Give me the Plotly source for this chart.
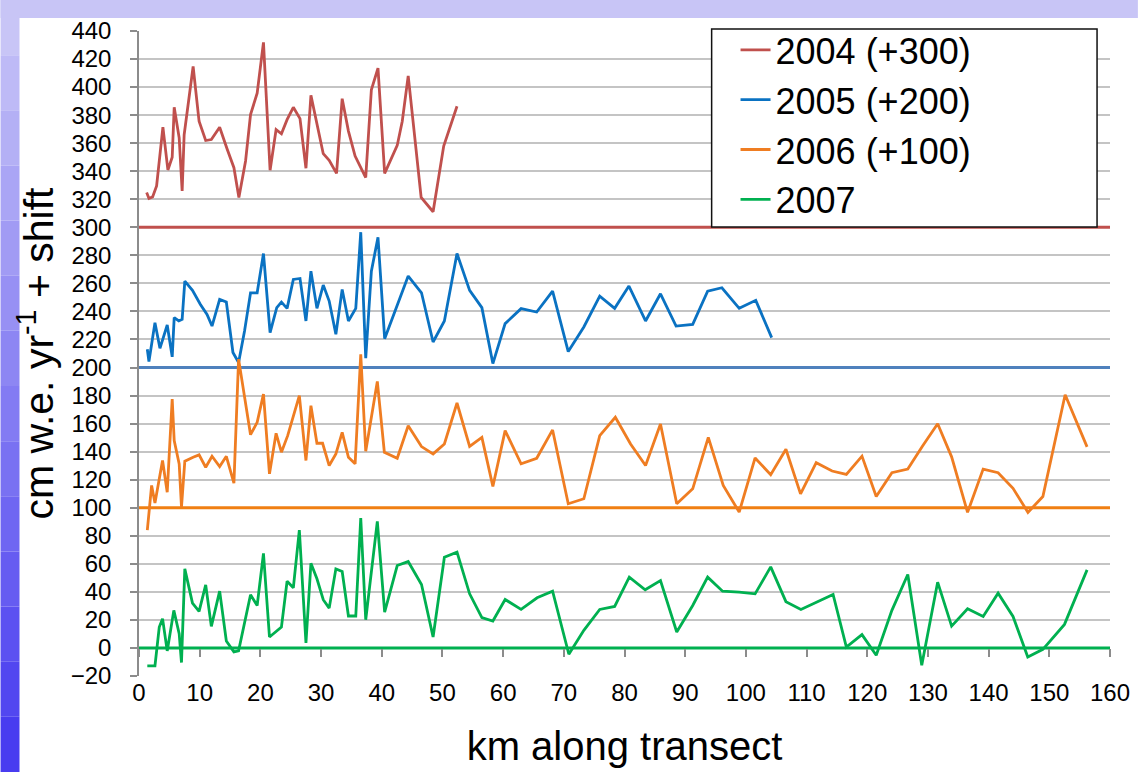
import plotly.graph_objects as go

# ---------------- data ----------------
KM_2004 = [1.26, 1.64, 2.24, 2.9, 3.94, 4.76, 5.47, 5.8, 6.62, 7.11, 7.44, 8.92, 9.9, 10.99, 11.92,
           13.29, 14.55, 15.64, 16.46, 17.56, 18.38, 19.47, 20.51, 21.6, 22.59, 23.47, 24.4, 25.43,
           26.53, 27.51, 28.33, 29.32, 30.36, 31.34, 32.55, 33.48, 34.51, 35.61, 37.36, 38.29, 39.38,
           40.48, 41.52, 42.55, 43.38, 44.36, 45.45, 46.49, 48.46, 50.21, 52.4]
VAL_2004 = [24.8, 20.6, 21.7, 29.5, 71.4, 40.9, 50, 85.6, 63.8, 26, 66, 114.7, 75.6, 61.9, 62.6,
            71.4, 55.5, 42.5, 21.3, 47.3, 80.4, 95.7, 131.9, 40.7, 69.7, 66.7, 76.8, 85.6,
            77.5, 42.1, 94.1, 73.3, 52.5, 47.8, 38.5, 91.7, 68.6, 50.8, 35.5, 98.1, 113.5,
            38.5, 48.5, 58.4, 75.6, 108, 63.8, 21.3, 11.1, 57.9, 86.3]

KM_2005 = [1.37, 1.64, 2.63, 3.45, 4.65, 5.47, 5.8, 6.56, 7.11, 7.55, 8.81, 10.12, 11.21, 12.03,
           13.29, 14.39, 15.48, 16.41, 17.39, 18.38, 19.47, 20.51, 21.6, 22.7, 23.47, 24.4, 25.43,
           26.53, 27.51, 28.33, 29.32, 30.36, 31.34, 32.44, 33.48, 34.51, 35.72, 36.54, 37.36,
           38.29, 39.38, 40.48, 44.36, 46.55, 48.46, 50.32, 52.4, 54.48, 56.5, 58.31, 60.33,
           62.96, 65.53, 68.15, 70.73, 73.3, 75.92, 78.38, 80.73, 83.47, 85.93, 88.5, 91.24,
           93.7, 96.05, 98.9, 101.63, 104.25]
VAL_2005 = [13, 4.3, 32, 13.7, 30.3, 7.6, 35.6, 33.2, 34.4, 61.6, 55, 45, 37.9, 29.6,
            48.6, 46.7, 10.7, 3.6, 26.1, 53.3, 53.3, 81.3, 24.9, 42.7, 46.7, 42.2, 62.8,
            63.5, 33.2, 68.7, 42.2, 58.8, 47.4, 23.7, 55.7, 33.2, 42.2, 96.5, 6.6,
            68.7, 92.9, 20.6, 65.2, 53.3, 18.2, 33.2, 81.3, 55, 42.7, 2.8, 31.3,
            42, 39.6, 54.5, 11.4, 28.9, 50.9, 42.2, 58.1, 33.2, 52.6, 29.6, 30.8,
            54.5, 56.9, 42.2, 47.9, 21.3]

KM_2006 = [1.37, 2.08, 2.63, 3.88, 4.65, 5.47, 5.8, 6.62, 7.0, 7.55, 8.92, 9.9, 10.99, 12.03,
           13.29, 14.39, 15.64, 16.41, 18.38, 19.47, 20.51, 21.5, 22.59, 23.47, 24.5, 26.42,
           27.51, 28.33, 29.32, 30.25, 31.34, 32.44, 33.48, 34.51, 35.61, 36.54, 37.36, 39.27,
           40.43, 42.55, 44.36, 46.55, 48.46, 50.32, 52.4, 54.48, 56.5, 58.31, 60.33, 62.96,
           65.53, 68.15, 70.73, 73.3, 75.92, 78.49, 81.0, 83.47, 85.93, 88.61, 91.24, 93.81,
           96.27, 98.9, 101.52, 104.09, 106.6, 109.01, 111.59, 114.21, 116.56, 119.13, 121.48,
           124.06, 126.68, 129.09, 131.6, 133.9, 136.53, 139.1, 141.56, 144.02, 146.48, 148.94,
           152.61, 156.22]
VAL_2006 = [-16, 15.9, 3.3, 33.7, 11.1, 77.5, 47.9, 31.3, 0.5, 33.2, 36, 37.7, 28.9, 36.7,
            29.4, 36.7, 17.5, 106, 52.1, 60.9, 81, 24.2, 53.1, 39.6, 51.4, 79.9,
            33.7, 72.8, 46, 46, 30.1, 38.4, 53.8, 36, 31.3, 109.5, 40.3, 90.1,
            39.6, 35.3, 58.5, 43.6, 38.4, 45.5, 74.7, 43.8, 50.2, 15.2, 55, 31.3,
            35.3, 55.5, 2.8, 6.4, 51.4, 64.5, 45.5, 30.1, 59.7, 2.8, 13.5, 50.2,
            15.9, -3.1, 35.5, 23.6, 41.7, 9.9, 32.1, 26.2, 23.8, 36.8, 8,
            25, 27.6, 43.9, 59.9, 36.3, -3.3, 27.6, 25, 13.9, -3.3, 8,
            80.6, 43.4]

KM_2007 = [1.37, 2.63, 3.34, 3.88, 4.65, 5.74, 6.62, 7.0, 7.55, 8.81, 9.9, 10.99, 11.92, 13.29,
           14.39, 15.64, 16.41, 18.38, 19.47, 20.51, 21.5, 23.47, 24.4, 25.43, 26.42, 27.51,
           28.33, 29.32, 30.36, 31.34, 32.44, 33.48, 34.51, 35.72, 36.54, 37.36, 39.27, 40.48,
           42.55, 44.36, 46.55, 48.46, 50.32, 52.4, 54.48, 56.5, 58.31, 60.33, 62.96, 65.6,
           68.15, 70.83, 73.3, 75.92, 78.38, 80.79, 83.41, 85.93, 88.61, 91.24, 93.7, 96.16,
           98.9, 101.52, 104.09, 106.6, 109.07, 111.75, 114.37, 116.56, 119.13, 121.48, 124.06,
           126.68, 128.98, 131.6, 133.9, 136.53, 139.1, 141.56, 144.02, 146.45, 148.94, 152.5,
           156.22]
VAL_2007 = [-12.8, -12.8, 14.9, 20.9, -2.1, 26.8, 10.2, -10.4, 56.4, 32, 26.1, 45, 15.4, 40.5,
            5, -2.8, -2.1, 37.9, 30.3, 67.5, 7.8, 14.9, 47.6, 42.9, 84.1, 3.6,
            60.4, 49.3, 34.4, 28.4, 56.4, 54.5, 22.8, 22.8, 92.7, 20.1, 90.3, 25.6,
            58.8, 61.6, 45.3, 7.8, 64.7, 68.3, 38.6, 21.6, 19.2, 34.6, 27.5, 35.8,
            40.5, -4.5, 12.6, 27.5, 29.6, 50.5, 41.5, 48.1, 11.4, 30.3, 50.5, 40.5,
            39.8, 38.6, 57.8, 33, 27.5, 32.7, 38.2, 0.7, 9.5, -5.2, 26.8,
            52.4, -12.3, 46.9, 15.6, 28, 22.5, 39.1, 22.5, -6.4, -1, 16.8,
            55.7]

SERIES_NAMES = ["2004 (+300)", "2005 (+200)", "2006 (+100)", "2007"]
SHIFTS = [300, 200, 100, 0]
LINE_COLORS = ["#c0504d", "#0a72c2", "#ef7d22", "#00b050"]
BASE_COLORS = ["#c0504d", "#4f81bd", "#f07f12", "#00b050"]

X_RANGE = [0, 160]
Y_RANGE = [-20, 440]
X_TITLE = "km along transect"
Y_TITLE = "cm w.e. yr<sup>-1</sup> + shift"

KMS = [KM_2004, KM_2005, KM_2006, KM_2007]
VALS = [VAL_2004, VAL_2005, VAL_2006, VAL_2007]

# ---------------- layout geometry ----------------
W, H = 1142, 772
ML, MR, MT, MB = 139, 28, 31, 96
PW, PH = W - ML - MR, H - MT - MB
FONT = "Liberation Sans, Arial, sans-serif"


def px_x(px):
    return (px - ML) / PW


def px_y(py):
    return (H - MB - py) / PH


fig = go.Figure()

# horizontal shift baselines (drawn first so data lines sit on top)
for shift, col in zip(SHIFTS, BASE_COLORS):
    fig.add_trace(go.Scatter(
        x=X_RANGE, y=[shift, shift], mode="lines",
        line=dict(color=col, width=3), showlegend=False, hoverinfo="skip",
        xaxis="x2" if shift == 0 else "x"))

for name, km, vals, shift, col in zip(SERIES_NAMES, KMS, VALS, SHIFTS, LINE_COLORS):
    fig.add_trace(go.Scatter(
        x=km, y=[v + shift for v in vals], mode="lines", name=name,
        line=dict(color=col, width=2.8)))

# ---------------- background (slide frame) ----------------
shapes = []
shapes.append(dict(type="rect", xref="paper", yref="paper", layer="below",
                   x0=px_x(0), x1=px_x(W), y0=px_y(18), y1=px_y(0),
                   fillcolor="#c8c5f6", line=dict(width=0)))
n = 14
c0 = (200, 197, 246)
c1 = (72, 60, 240)
for k in range(n):
    t = k / (n - 1)
    c = tuple(int(round(a + (b - a) * t)) for a, b in zip(c0, c1))
    shapes.append(dict(type="rect", xref="paper", yref="paper", layer="below",
                       x0=px_x(0), x1=px_x(19), y0=px_y((k + 1) * H / n), y1=px_y(k * H / n),
                       fillcolor="rgb(%d,%d,%d)" % c, line=dict(width=0)))
# legend frame
shapes.append(dict(type="rect", xref="paper", yref="paper", layer="above",
                   x0=px_x(714), x1=px_x(1101), y0=px_y(227), y1=px_y(29),
                   fillcolor="white", line=dict(color="#111111", width=1.5)))

fig.update_layout(
    width=W, height=H,
    margin=dict(l=ML, r=MR, t=MT, b=MB, pad=0),
    paper_bgcolor="white", plot_bgcolor="white",
    font=dict(family=FONT, color="#000000"),
    shapes=shapes,
    showlegend=True,
    legend=dict(x=px_x(738), y=px_y(20), xanchor="left", yanchor="top",
                bgcolor="rgba(0,0,0,0)", borderwidth=0,
                font=dict(size=36, family=FONT),
                tracegroupgap=0, itemwidth=30),
    xaxis=dict(range=X_RANGE, dtick=10, tick0=0, showgrid=False, zeroline=False,
               showline=False, ticks="",
               tickfont=dict(size=24, family=FONT),
               title=dict(text=X_TITLE, standoff=26, font=dict(size=40, family=FONT))),
    xaxis2=dict(range=X_RANGE, dtick=10, tick0=0, overlaying="x", anchor="free",
                position=(0 - Y_RANGE[0]) / (Y_RANGE[1] - Y_RANGE[0]),
                showgrid=False, zeroline=False, showline=False, ticks="outside",
                ticklen=8, tickwidth=1.5, tickcolor="#8c8c8c", showticklabels=False),
    yaxis=dict(range=Y_RANGE, dtick=20, tick0=0, showgrid=True, gridcolor="#c4c4c4",
               gridwidth=1.5, zeroline=False, showline=True, linecolor="#8c8c8c",
               linewidth=1.5, ticks="outside", ticklen=7, tickwidth=1.5, tickcolor="#8c8c8c",
               tickfont=dict(size=24), ticklabelstandoff=14,
               title=dict(text=Y_TITLE, standoff=4, font=dict(size=41))),
)

fig.write_html("out.html")
